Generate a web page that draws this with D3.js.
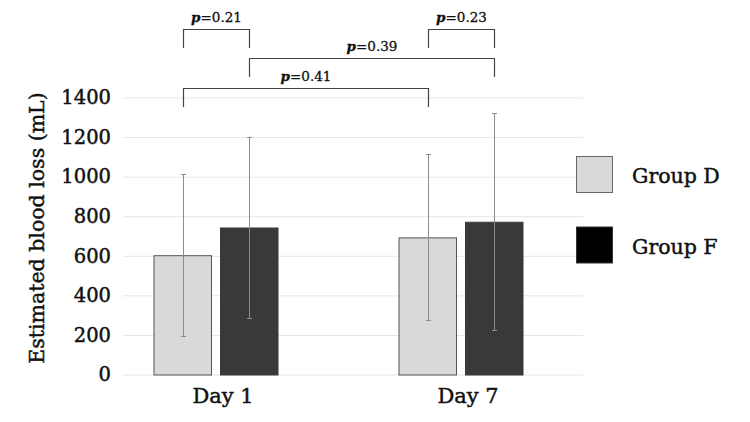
<!DOCTYPE html>
<html>
<head>
<meta charset="utf-8">
<script src="https://cdn.jsdelivr.net/npm/d3@7"></script>
<style>
    body { margin: 0; background: #fff; }
    text { font-family: "DejaVu Serif", serif; fill: #111; stroke: #111; stroke-width: 0.45px; }
</style>
</head>
<body>
<div id="vis"></div>
<script>
// Data
var days = ['Day 1', 'Day 7'];
var groups = ['Group D', 'Group F'];
var groupD = [603, 693];
var groupF = [743, 772];
var sdD = [410, 420];
var sdF = [459, 549];
var yTicks = [0, 200, 400, 600, 800, 1000, 1200, 1400];
// p-value brackets: [from (day, group), to (day, group), label, level]
var comparisons = [
    { a: [0, 0], b: [0, 1], p: '0.21', level: 0 },
    { a: [1, 0], b: [1, 1], p: '0.23', level: 0 },
    { a: [0, 1], b: [1, 1], p: '0.39', level: 1 },
    { a: [0, 0], b: [1, 0], p: '0.41', level: 2 }
];

var width = 750, height = 422;

var svg = d3.select('#vis').append('svg')
    .attr('width', width)
    .attr('height', height);

// Scales
var xScale = d3.scaleBand()
    .domain(days)
    .range([93.5, 583.5]);

var xInner = d3.scaleBand()
    .domain(groups)
    .range([-62.5, 62.5])
    .paddingInner(0.12);

var yScale = d3.scaleLinear()
    .domain([0, 1400])
    .range([374.5, 97.5]);

var colors = { 'Group D': '#d9d9d9', 'Group F': '#3b3838' };

// Gridlines
svg.append('g').selectAll('line')
    .data(yTicks)
    .enter().append('line')
    .attr('x1', 123)
    .attr('x2', 583)
    .attr('y1', function(d) { return yScale(d) + 0.5; })
    .attr('y2', function(d) { return yScale(d) + 0.5; })
    .attr('stroke', '#e6e6e6')
    .attr('stroke-width', 1);

// Y axis labels
var yAxis = d3.axisLeft(yScale).tickValues(yTicks).tickFormat(d3.format('d')).tickSize(0).tickPadding(0);
var yAxisG = svg.append('g')
    .attr('transform', 'translate(111,0)')
    .call(yAxis);
yAxisG.select('.domain').remove();
yAxisG.selectAll('text')
    .style('font-family', '"DejaVu Serif", serif')
    .style('font-size', '19.5px')
    .attr('fill', '#111');

// Y axis title
svg.append('text')
    .attr('transform', 'translate(44,' + ((97.5 + 374.5) / 2 - 8) + ') rotate(-90)')
    .attr('text-anchor', 'middle')
    .style('font-size', '20.5px')
    .text('Estimated blood loss (mL)');

// X axis labels
var xAxis = d3.axisBottom(xScale).tickSize(0).tickPadding(0);
var xAxisG = svg.append('g')
    .attr('transform', 'translate(0,388)')
    .call(xAxis);
xAxisG.select('.domain').remove();
xAxisG.selectAll('text')
    .attr('dx', 7)
    .style('font-family', '"DejaVu Serif", serif')
    .style('font-size', '21px')
    .attr('fill', '#111');

// Flatten to bars
var bars = [];
days.forEach(function(day, i) {
    bars.push({ day: day, group: 'Group D', value: groupD[i], sd: sdD[i] });
    bars.push({ day: day, group: 'Group F', value: groupF[i], sd: sdF[i] });
});

var barX = function(d) { return xScale(d.day) + xScale.bandwidth() / 2 + xInner(d.group); };

svg.append('g').selectAll('rect')
    .data(bars)
    .enter().append('rect')
    .attr('x', function(d) { return barX(d) + 0.5; })
    .attr('y', function(d) { return yScale(d.value) + 0.5; })
    .attr('width', xInner.bandwidth() - 1)
    .attr('height', function(d) { return yScale(0) - yScale(d.value); })
    .attr('fill', function(d) { return colors[d.group]; })
    .attr('stroke', function(d) { return d.group == 'Group D' ? '#555' : '#3b3838'; })
    .attr('stroke-width', 1);

// Error bars
var errG = svg.append('g').selectAll('g')
    .data(bars)
    .enter().append('g')
    .attr('stroke', '#8c8c8c')
    .attr('stroke-width', 1);

errG.append('line')
    .attr('x1', function(d) { return Math.round(barX(d) + xInner.bandwidth() / 2) + 0.5; })
    .attr('x2', function(d) { return Math.round(barX(d) + xInner.bandwidth() / 2) + 0.5; })
    .attr('y1', function(d) { return yScale(d.value + d.sd); })
    .attr('y2', function(d) { return yScale(d.value - d.sd); });

[1, -1].forEach(function(sign) {
    errG.append('line')
        .attr('x1', function(d) { return Math.round(barX(d) + xInner.bandwidth() / 2) - 2; })
        .attr('x2', function(d) { return Math.round(barX(d) + xInner.bandwidth() / 2) + 3; })
        .attr('y1', function(d) { return Math.round(yScale(d.value + sign * d.sd)) + 0.5; })
        .attr('y2', function(d) { return Math.round(yScale(d.value + sign * d.sd)) + 0.5; });
});

// Significance brackets
var levelTop = [29.5, 58.5, 88.5];
var legLen = 18.5;
var centerOf = function(ref) {
    return Math.round(xScale(days[ref[0]]) + xScale.bandwidth() / 2 + xInner(groups[ref[1]]) + xInner.bandwidth() / 2) + 0.5;
};

var brackets = svg.append('g').selectAll('g')
    .data(comparisons)
    .enter().append('g');

brackets.append('path')
    .attr('d', function(d) {
        var x1 = centerOf(d.a), x2 = centerOf(d.b), y = levelTop[d.level];
        return 'M' + x1 + ',' + (y + legLen) + 'V' + y + 'H' + x2 + 'V' + (y + legLen);
    })
    .attr('fill', 'none')
    .attr('stroke', '#444')
    .attr('stroke-width', 1.2);

var pText = brackets.append('text')
    .attr('x', function(d) { return (centerOf(d.a) + centerOf(d.b)) / 2; })
    .attr('y', function(d) { return levelTop[d.level] - 8; })
    .attr('text-anchor', 'middle')
    .style('font-size', '13.5px')
    .style('stroke-width', '0.3px');
pText.append('tspan')
    .style('font-style', 'italic')
    .style('font-weight', 'bold')
    .text('p');
pText.append('tspan')
    .text(function(d) { return '=' + d.p; });

// Legend
var legend = svg.append('g').selectAll('g')
    .data(groups)
    .enter().append('g')
    .attr('transform', function(d, i) { return 'translate(576,' + (156 + i * 70.5) + ')'; });

legend.append('rect')
    .attr('x', 0.5)
    .attr('y', 0.5)
    .attr('width', 36)
    .attr('height', 36)
    .attr('fill', function(d) { return d == 'Group D' ? '#d9d9d9' : '#000'; })
    .attr('stroke', function(d) { return d == 'Group D' ? '#666' : '#333'; });

legend.append('text')
    .attr('x', 56)
    .attr('y', 27)
    .style('font-size', '20.5px')
    .text(function(d) { return d; });
</script>
</body>
</html>
